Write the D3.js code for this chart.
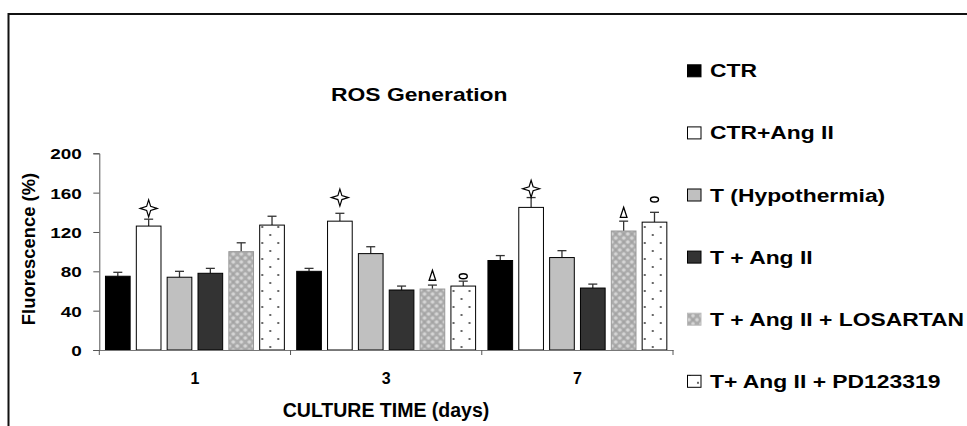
<!DOCTYPE html>
<html><head><meta charset="utf-8">
<script src="https://cdn.jsdelivr.net/npm/d3@7"></script>
<style>body{margin:0;background:#fff}svg{display:block}text{font-family:"Liberation Sans",Arial,sans-serif;font-weight:bold;fill:#000}</style>
</head><body><svg id="c" width="967" height="426"></svg>
<script>
const categories = ["1", "3", "7"];
const seriesNames = ["CTR", "CTR+Ang II", "T (Hypothermia)", "T + Ang II", "T + Ang II + LOSARTAN", "T+ Ang II + PD123319"];
const ctr      = [75, 80, 91];
const ctrAng   = [126, 131, 145];
const hypo     = [74, 98, 94];
const hypoAng  = [78, 61, 63];
const losartan = [100, 62, 121];
const pd       = [127, 65, 130];
const ctrErr      = [4, 3, 5];
const ctrAngErr   = [7, 8, 10];
const hypoErr     = [6, 7, 7];
const hypoAngErr  = [5, 4, 4];
const losartanErr = [9, 4, 10];
const pdErr       = [9, 5, 10];
const yTicks = [0, 40, 80, 120, 160, 200];
// significance marks: [series index, category, value level]
const starMarks  = [[1, "1", 144], [1, "3", 155], [1, "7", 164]];
const deltaMarks = [[4, "3", 76], [4, "7", 140]];
const ovalMarks  = [[5, "3", 75], [5, "7", 153]];

const values = [ctr, ctrAng, hypo, hypoAng, losartan, pd];
const errors = [ctrErr, ctrAngErr, hypoErr, hypoAngErr, losartanErr, pdErr];
const SX = 1.23;

const svg = d3.select("#c");
const defs = svg.append("defs");
const pLos = defs.append("pattern").attr("id", "los").attr("patternUnits", "userSpaceOnUse").attr("width", 8).attr("height", 8);
pLos.append("rect").attr("width", 8).attr("height", 8).attr("fill", "#ababab");
pLos.append("circle").attr("cx", 2).attr("cy", 2).attr("r", 1.8).attr("fill", "#d6d6d6");
pLos.append("circle").attr("cx", 6).attr("cy", 6).attr("r", 1.8).attr("fill", "#d6d6d6");
pLos.append("circle").attr("cx", 6).attr("cy", 2).attr("r", 0.8).attr("fill", "#9a9a9a");
const pPd = defs.append("pattern").attr("id", "pd").attr("patternUnits", "userSpaceOnUse").attr("width", 16).attr("height", 16);
pPd.append("rect").attr("width", 16).attr("height", 16).attr("fill", "#fff");
pPd.append("circle").attr("cx", 3).attr("cy", 3).attr("r", 1.1).attr("fill", "#444");
pPd.append("circle").attr("cx", 11).attr("cy", 11).attr("r", 1.1).attr("fill", "#444");
pPd.append("circle").attr("cx", 11).attr("cy", 3).attr("r", 0.0).attr("fill", "#444");

const fills = ["#000", "#fff", "#c0c0c0", "#333", "url(#los)", "url(#pd)"];
const strokes = ["#000", "#000", "#000", "#000", "#999", "#000"];

// frame
svg.append("path").attr("d", "M8.5,426 V14 H967").attr("fill", "none").attr("stroke", "#111").attr("stroke-width", 2);

const x0 = d3.scaleBand().domain(categories).range([99.3, 673]).padding(0);
const x1 = d3.scaleBand().domain(d3.range(seriesNames.length)).range([0, x0.bandwidth()]).paddingInner(0.2).paddingOuter(0.2);
const y = d3.scaleLinear().domain([0, 200]).range([350, 153.3]);

function stext(parent, str, x, yy, size, anchor, sx) {
  const g = parent.append("g").attr("transform", `translate(${x},${yy}) scale(${sx},1)`);
  return g.append("text").attr("font-size", size).attr("text-anchor", anchor).text(str);
}

// y axis
const ya = svg.append("g").attr("transform", "translate(99.3,0)").call(d3.axisLeft(y).tickValues(yTicks).tickSize(6).tickPadding(0));
ya.select(".domain").attr("stroke", "#555");
ya.selectAll(".tick line").attr("stroke", "#555");
ya.selectAll(".tick text").attr("font-size", 15.4).attr("font-family", "Liberation Sans, Arial, sans-serif").attr("font-weight", "bold")
  .attr("fill", "#000").attr("x", -17.6 / SX).attr("dy", "0.36em").attr("transform", `scale(${SX},1)`);

// bars
const groups = svg.append("g").selectAll("g").data(categories).join("g").attr("transform", d => `translate(${x0(d)},0)`);
groups.each(function (cat, ci) {
  const g = d3.select(this);
  values.forEach((vals, si) => {
    const v = vals[ci], e = errors[si][ci];
    const cx = x1(si) + x1.bandwidth() / 2;
    g.append("line").attr("x1", cx).attr("x2", cx).attr("y1", y(v)).attr("y2", y(v + e)).attr("stroke", "#333").attr("stroke-width", 1.3);
    g.append("line").attr("x1", cx - 4.5).attr("x2", cx + 4.5).attr("y1", y(v + e)).attr("y2", y(v + e)).attr("stroke", "#333").attr("stroke-width", 1.3);
    g.append("rect").attr("x", x1(si)).attr("y", y(v)).attr("width", x1.bandwidth()).attr("height", y(0) - y(v))
      .attr("fill", fills[si]).attr("stroke", strokes[si]).attr("stroke-width", 1);
  });
});

// x axis
const xa = svg.append("g").attr("transform", "translate(0,350)").call(d3.axisBottom(x0).tickSize(0).tickPadding(23));
xa.select(".domain").attr("stroke", "#777").attr("stroke-width", 1.2);
xa.selectAll(".tick text").attr("font-size", 16).attr("font-family", "Liberation Sans, Arial, sans-serif").attr("font-weight", "bold")
  .attr("fill", "#000").attr("transform", `scale(1.15,1)`).each(function () {
    const t = d3.select(this); const p = d3.select(this.parentNode);
  });
xa.selectAll(".tick").each(function () {
  const t = d3.select(this).select("text");
  t.attr("transform", null);
  const tr = d3.select(this).attr("transform");
});
const bounds = categories.map(c => x0(c)).concat([x0(categories[categories.length - 1]) + x0.bandwidth()]);
svg.append("g").selectAll("line").data(bounds).join("line")
  .attr("x1", d => d).attr("x2", d => d).attr("y1", 350).attr("y2", 355).attr("stroke", "#555");

// markers
function starPath(cx, cy) {
  const r = 8.5, i = 2;
  return `M${cx},${cy - r} L${cx + i},${cy - i} L${cx + r},${cy} L${cx + i},${cy + i} L${cx},${cy + r} L${cx - i},${cy + i} L${cx - r},${cy} L${cx - i},${cy - i} Z`;
}
const bx = (si, c) => x0(c) + x1(si) + x1.bandwidth() / 2;
svg.append("g").selectAll("path").data(starMarks).join("path")
  .attr("d", d => starPath(bx(d[0], d[1]), y(d[2]))).attr("fill", "#fff").attr("stroke", "#000").attr("stroke-width", 1.2);
svg.append("g").selectAll("path").data(deltaMarks).join("path")
  .attr("d", d => { const cx = bx(d[0], d[1]), cy = y(d[2]); return `M${cx},${cy - 5} L${cx + 3.3},${cy + 5} L${cx - 3.3},${cy + 5} Z`; })
  .attr("fill", "none").attr("stroke", "#000").attr("stroke-width", 1.3);
svg.append("g").selectAll("ellipse").data(ovalMarks).join("ellipse")
  .attr("cx", d => bx(d[0], d[1])).attr("cy", d => y(d[2])).attr("rx", 4).attr("ry", 2.5)
  .attr("fill", "none").attr("stroke", "#000").attr("stroke-width", 1.4);

// titles
stext(svg, "ROS Generation", 331, 100.7, 18.6, "start", SX);
svg.append("text").attr("x", 386).attr("y", 416.7).attr("font-size", 19.5).attr("text-anchor", "middle").text("CULTURE TIME (days)");
svg.append("text").attr("transform", "translate(35,249) rotate(-90)").attr("font-size", 18.4).attr("text-anchor", "middle").text("Fluorescence (%)");

// legend
const lg = svg.append("g").selectAll("g").data(seriesNames).join("g")
  .attr("transform", (d, i) => `translate(687,${77.3 + i * 62.1})`);
lg.append("rect").attr("x", 0.5).attr("y", -12.5).attr("width", 13.5).attr("height", 12)
  .attr("fill", (d, i) => fills[i]).attr("stroke", (d, i) => i === 4 ? "#bbb" : "#000").attr("stroke-width", 1);
lg.each(function (d) { stext(d3.select(this), d, 23, 0, 18.6, "start", SX); });
</script></body></html>
